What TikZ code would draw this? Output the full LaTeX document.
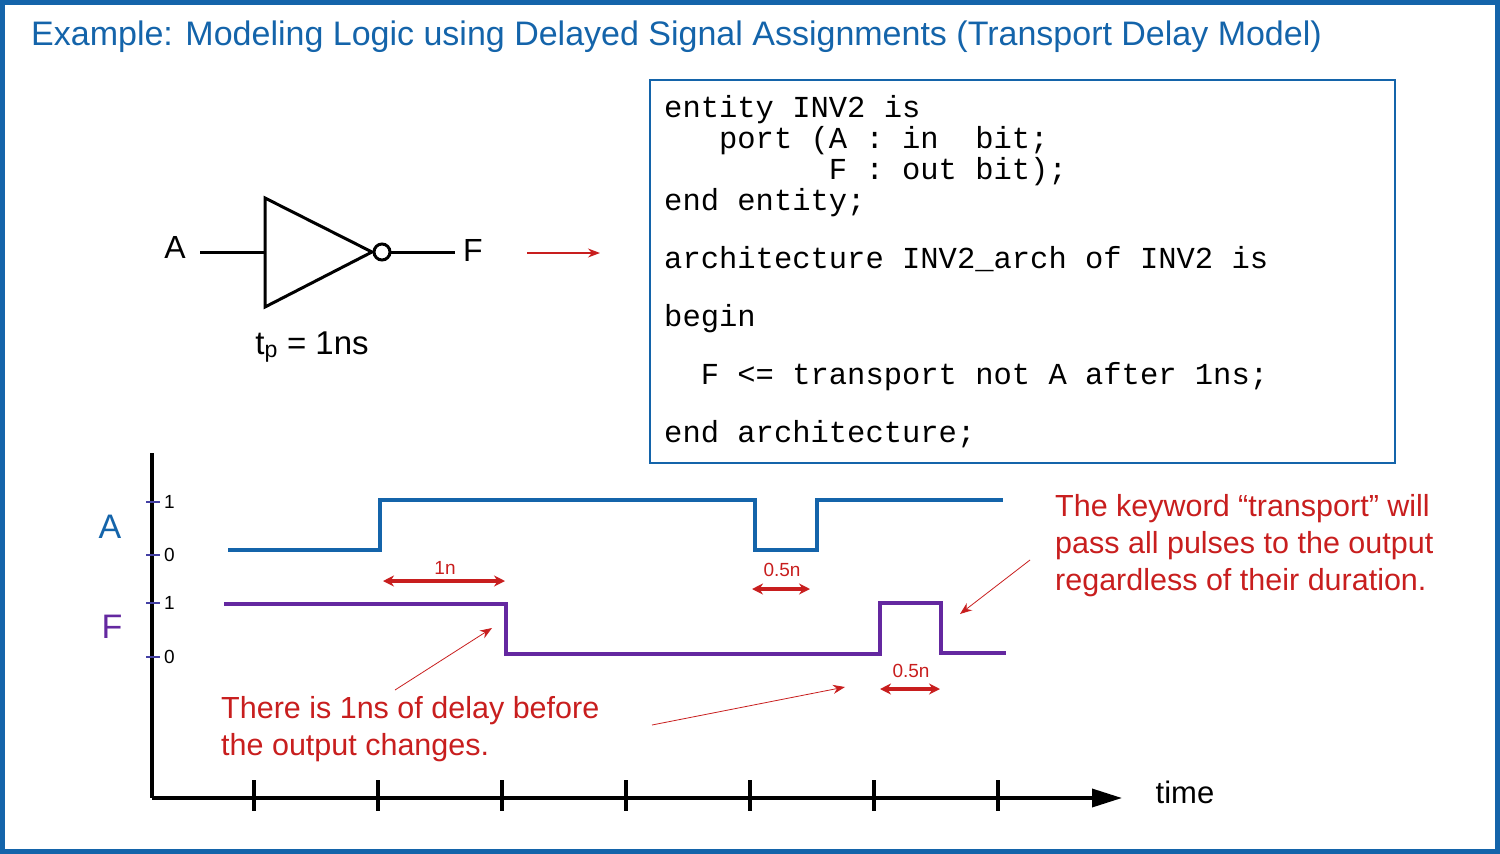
\documentclass[tikz,border=0pt]{standalone}
\usepackage{fontspec}
\setmainfont{Liberation Sans}
\newfontfamily\codefont{Liberation Mono}
\usetikzlibrary{arrows.meta}
\definecolor{tblue}{RGB}{20,100,170}
\definecolor{tred}{RGB}{200,30,30}
\definecolor{tpurp}{RGB}{100,40,160}
\begin{document}
\begin{tikzpicture}[x=1pt,y=-1pt,
  wire/.style={line width=3pt},
  sig/.style={line width=4pt},
  dbl/.style={tred,line width=3.5pt,{Stealth[length=11pt,width=11pt]}-{Stealth[length=11pt,width=11pt]}},
  thin/.style={tred,line width=0.8pt,-{Stealth[length=12pt]}},
  note/.style={tred,font=\fontsize{30.5}{37}\selectfont,align=left,anchor=north west,inner sep=0},
  small/.style={font=\fontsize{19}{22}\selectfont,inner sep=1pt}]
\useasboundingbox (0,0) rectangle (1500,854);
\draw[tblue,line width=5pt] (2.5,2.5) rectangle (1497.5,851.5);
\node[tblue,anchor=west,inner sep=0,font=\fontsize{34}{40}\selectfont] (title) at (31,37) {Example: Modeling Logic using Delayed Signal Assignments (Transport Delay Model)};
% code box
\draw[tblue,line width=2.5pt] (650,80) rectangle (1395,463);
\node[anchor=north west,inner sep=0,align=left,font=\codefont\fontsize{30.5}{31}\selectfont] (code) at (664,95) {entity INV2 is\\
\ \ \ port (A : in\ \ bit;\\
\ \ \ \ \ \ \ \ \ F : out bit);\\
end entity;\\[27pt]
architecture INV2\_arch of INV2 is\\[27pt]
begin\\[27pt]
\ \ F <= transport not A after 1ns;\\[27pt]
end architecture;};
% inverter
\node[font=\fontsize{32}{36}\selectfont] (lA) at (175,247) {A};
\node[font=\fontsize{32}{36}\selectfont] (lF) at (473,250) {F};
\draw[wire] (200,252) -- (265,252);
\draw[wire,line join=miter] (265,198) -- (372,252) -- (265,307) -- cycle;
\draw[wire] (382,252) circle (8);
\draw[wire] (390,252) -- (455,252);
\node[font=\fontsize{33}{36}\selectfont] (tp) at (312,347) {t\textsubscript{p} = 1ns};
\draw[tred,line width=1.2pt,-{Stealth[length=12pt]}] (527,253) -- (600,253);
% axes
\draw[line width=3.5pt] (152,453) -- (152,798);
\draw[line width=3.5pt,-{Triangle[length=30pt,width=18pt]}] (152,798) -- (1122,798);
\foreach \x in {254,378,502,626,750,874,998} \draw[line width=3.5pt] (\x,780) -- (\x,811);
\node[font=\fontsize{31}{34}\selectfont] (time) at (1185,792) {time};
\foreach \y/\t in {502/1,555/0,603/1,657/0}{
  \draw[line width=2.5pt,tpurp!60!tblue] (146,\y) -- (160,\y);
  \node[small,anchor=west] at (163,\y) {\t};}
\node[tblue,font=\fontsize{34}{36}\selectfont] (sA) at (110,527) {A};
\node[tpurp,font=\fontsize{34}{36}\selectfont] (sF) at (112,627) {F};
\draw[sig,tblue] (228,550) -- (380,550) -- (380,500) -- (755,500) -- (755,550) -- (817,550) -- (817,500) -- (1003,500);
\draw[sig,tpurp] (224,604) -- (506,604) -- (506,654) -- (880,654) -- (880,603) -- (941,603) -- (941,653) -- (1006,653);
% dimension arrows
\draw[dbl] (383,581) -- (505,581);
\node[small,tred] at (445,568) {1n};
\draw[dbl] (752,589) -- (810,589);
\node[small,tred] at (782,570) {0.5n};
\draw[dbl] (880,689) -- (940,689);
\node[small,tred] at (911,671) {0.5n};
% notes
\node[note] (n1) at (221,696) {There is 1ns of delay before\\the output changes.};
\node[note] (n2) at (1055,494) {The keyword “transport” will\\pass all pulses to the output\\regardless of their duration.};
\coordinate (p1) at (492,628); \coordinate (p2) at (845,687); \coordinate (p3) at (960,614);
\draw[thin] (395,690) -- (p1);
\draw[thin] (652,725) -- (p2);
\draw[thin] (1030,560) -- (p3);
\end{tikzpicture}
\end{document}
